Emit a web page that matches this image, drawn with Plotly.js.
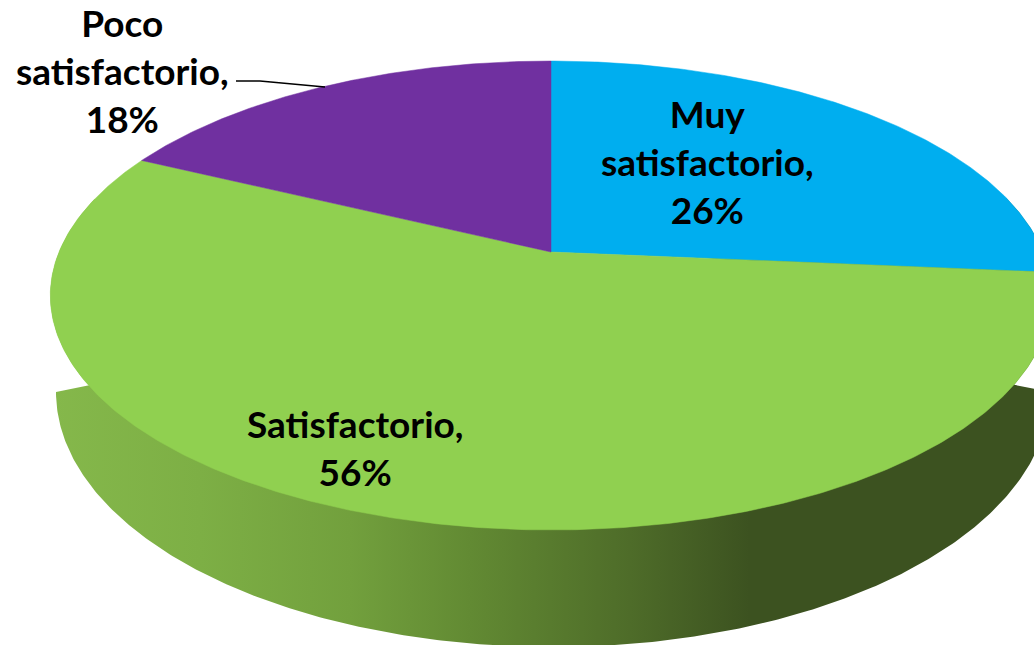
<!DOCTYPE html>
<html>
<head>
<meta charset="utf-8">
<script src="https://cdn.plot.ly/plotly-3.0.1.min.js"></script>
<style>html,body{margin:0;padding:0;background:#fff}#chart{width:1034px;height:645px}</style>
</head>
<body>
<div id="chart"></div>
<script>
const categories = ['Muy satisfactorio', 'Satisfactorio', 'Poco satisfactorio'];
const shares = [26.4, 55.8, 17.8];
const sliceColors = ['#00AEEF', '#90D050', '#7030A0'];
const labelX = [707, 355, 122];
const labelY = [161, 447, 70];

// Tilted-disc projection of the pie's top face
const cx = 551, apexY = 252, tilt = 0.1855, depthScale = 226.4, widthScale = 492;
function topFace(theta) {
  const u = Math.sin(theta), v = Math.cos(theta), d = 1 + tilt * v;
  return [cx + widthScale * u / d, apexY - depthScale * v / d];
}
// Lower rim of the extruded side wall
const rimCx = 553, rimCy = 392, rimRx = 497, rimRy = 255;
const STEP = Math.PI / 360;

const traces = [];

// Side wall: top-face front arc, then lower rim back again
const wallX = [], wallY = [];
for (let t = Math.PI * 0.42; t <= Math.PI * 1.58; t += STEP) {
  const p = topFace(t); wallX.push(p[0]); wallY.push(p[1]);
}
for (let a = Math.PI * 1.0; a >= 0; a -= STEP) {
  wallX.push(rimCx - rimRx * Math.cos(a));
  wallY.push(rimCy + rimRy * Math.sin(a));
}
traces.push({
  type: 'scatter', mode: 'lines', x: wallX, y: wallY, fill: 'toself',
  line: {width: 0}, hoverinfo: 'skip', showlegend: false,
  fillgradient: {
    type: 'horizontal', start: 50, stop: 1050,
    colorscale: [[0, '#85B84B'], [0.15, '#7DAF45'], [0.3, '#72A03D'], [0.42, '#628A33'],
                 [0.58, '#4E6C29'], [0.7, '#3C5220'], [1, '#3C5220']]
  }
});

// Pie slices, clockwise from twelve o'clock
const total = shares.reduce((a, b) => a + b, 0);
let start = 0;
shares.forEach((val, i) => {
  const end = start + val / total * 2 * Math.PI;
  const xs = [cx], ys = [apexY];
  for (let t = start; t < end; t += STEP) {
    const p = topFace(t); xs.push(p[0]); ys.push(p[1]);
  }
  const p = topFace(end); xs.push(p[0], cx); ys.push(p[1], apexY);
  traces.push({
    type: 'scatter', mode: 'lines', x: xs, y: ys, fill: 'toself', fillcolor: sliceColors[i],
    line: {width: 0.5, color: sliceColors[i]}, hoverinfo: 'skip', showlegend: false, name: categories[i]
  });
  start = end;
});

const annotations = categories.map((c, i) => ({
  x: labelX[i], y: labelY[i], xref: 'x', yref: 'y', showarrow: false, align: 'center',
  text: c.replace(' ', '<br>') + ',<br>' + Math.round(shares[i]) + '%',
  font: {family: 'Lato, Carlito, sans-serif', size: 37, color: '#000', weight: 700}
}));

const layout = {
  width: 1034, height: 645, margin: {l: 0, r: 0, t: 0, b: 0},
  paper_bgcolor: '#fff', plot_bgcolor: '#fff', hovermode: false, showlegend: false,
  xaxis: {range: [0, 1034], visible: false, fixedrange: true},
  yaxis: {range: [645, 0], visible: false, fixedrange: true},
  annotations,
  shapes: [{type: 'path', xref: 'x', yref: 'y', path: 'M236,81 L260,81 L325,87', line: {color: '#000', width: 1.5}}]
};
Plotly.newPlot('chart', traces, layout, {displayModeBar: false, staticPlot: true});
</script>
</body>
</html>
